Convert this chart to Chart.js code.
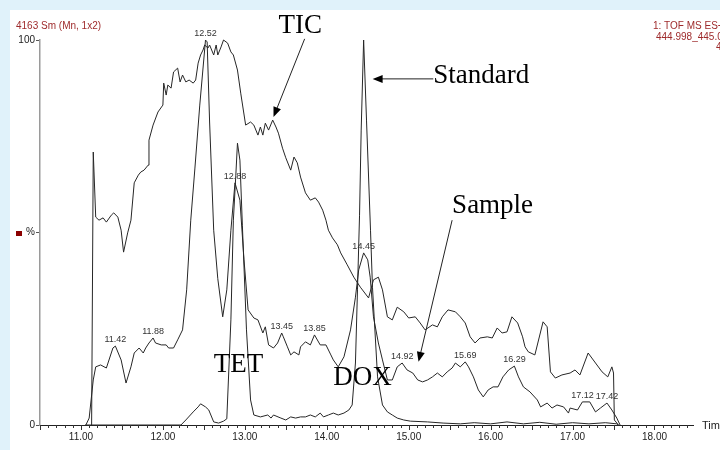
<!DOCTYPE html>
<html>
<head>
<meta charset="utf-8">
<script src="https://cdn.jsdelivr.net/npm/chart.js@4.4.1/dist/chart.umd.min.js"></script>
<style>
  body { margin: 0; background: #e0f2fa; width: 720px; height: 450px; overflow: hidden; }
  #panel { position: absolute; left: 10px; top: 10px; width: 710px; height: 440px; background: #fff; }
</style>
</head>
<body>
<div id="panel"><canvas id="chromatogram" width="710" height="440"></canvas></div>
<script>
// retention time (min) and relative intensity (%) for each trace
const ticTimes = [11.13, 11.15, 11.18, 11.22, 11.27, 11.31, 11.37, 11.40, 11.45, 11.49, 11.52, 11.57, 11.61, 11.65, 11.70, 11.73, 11.77, 11.82, 11.83, 11.88, 11.94, 12.00, 12.01, 12.04, 12.06, 12.10, 12.13, 12.18, 12.21, 12.24, 12.28, 12.32, 12.37, 12.40, 12.43, 12.46, 12.49, 12.51, 12.55, 12.57, 12.62, 12.65, 12.67, 12.71, 12.74, 12.79, 12.83, 12.86, 12.91, 12.95, 13.01, 13.07, 13.11, 13.16, 13.19, 13.22, 13.25, 13.29, 13.34, 13.38, 13.41, 13.46, 13.50, 13.56, 13.60, 13.64, 13.68, 13.74, 13.80, 13.86, 13.90, 13.95, 13.99, 14.02, 14.07, 14.13, 14.17, 14.25, 14.33, 14.41, 14.51, 14.57, 14.63, 14.68, 14.74, 14.80, 14.86, 14.94, 15.00, 15.08, 15.14, 15.20, 15.29, 15.35, 15.41, 15.48, 15.57, 15.63, 15.69, 15.75, 15.81, 15.87, 15.96, 16.02, 16.08, 16.14, 16.20, 16.26, 16.33, 16.39, 16.42, 16.46, 16.54, 16.64, 16.69, 16.73, 16.79, 16.87, 16.97, 17.03, 17.09, 17.19, 17.28, 17.36, 17.43, 17.48, 17.50, 17.51, 17.56];
const ticValues = [0, 70.9, 54.0, 53.2, 53.8, 52.7, 54.5, 55.1, 54.0, 50.6, 44.9, 49.9, 53.2, 62.9, 64.9, 65.7, 66.2, 67.5, 74.0, 77.9, 81.3, 83.1, 88.8, 85.7, 88.3, 87.5, 91.7, 92.7, 89.1, 90.9, 89.1, 89.6, 88.8, 89.6, 94.0, 96.1, 97.4, 98.7, 97.9, 98.7, 96.1, 98.7, 96.1, 98.2, 100, 99.2, 96.9, 96.1, 92.2, 86.2, 77.9, 78.7, 77.9, 75.3, 77.4, 75.3, 78.4, 76.6, 79.2, 77.4, 75.8, 71.9, 69.4, 66.2, 69.6, 68.1, 64.4, 60.3, 58.4, 59.0, 57.9, 55.8, 53.2, 50.6, 48.6, 46.8, 44.7, 41.6, 38.4, 35.8, 33.0, 37.7, 38.4, 35.1, 28.1, 27.3, 30.6, 29.4, 27.8, 28.1, 26.5, 24.7, 26.0, 25.5, 28.1, 29.9, 29.4, 28.1, 26.5, 22.9, 21.3, 22.6, 22.9, 22.6, 25.2, 23.9, 24.2, 28.1, 26.5, 22.9, 20.3, 19.0, 18.2, 26.8, 25.5, 13.8, 12.2, 13.0, 13.5, 14.3, 13.0, 18.7, 16.1, 13.8, 12.5, 15.1, 13.5, 1.3, 0];

const sampleTimes = [11.06, 11.10, 11.15, 11.18, 11.24, 11.31, 11.39, 11.42, 11.49, 11.55, 11.61, 11.65, 11.71, 11.76, 11.79, 11.83, 11.88, 11.91, 11.98, 12.04, 12.07, 12.13, 12.18, 12.24, 12.29, 12.34, 12.39, 12.45, 12.52, 12.54, 12.57, 12.62, 12.67, 12.73, 12.78, 12.83, 12.88, 12.94, 12.99, 13.04, 13.11, 13.16, 13.22, 13.25, 13.29, 13.35, 13.40, 13.45, 13.47, 13.52, 13.56, 13.60, 13.66, 13.68, 13.74, 13.80, 13.85, 13.92, 13.99, 14.05, 14.08, 14.14, 14.21, 14.29, 14.35, 14.39, 14.45, 14.50, 14.53, 14.57, 14.63, 14.68, 14.74, 14.80, 14.86, 14.92, 14.98, 15.05, 15.11, 15.17, 15.23, 15.29, 15.35, 15.41, 15.47, 15.53, 15.57, 15.63, 15.69, 15.73, 15.79, 15.85, 15.91, 15.97, 16.03, 16.09, 16.15, 16.22, 16.29, 16.34, 16.40, 16.48, 16.57, 16.61, 16.69, 16.75, 16.81, 16.89, 16.95, 16.97, 17.06, 17.12, 17.21, 17.28, 17.34, 17.42, 17.48, 17.54, 17.58];
const sampleValues = [0, 1.8, 11.7, 15.1, 15.6, 14.8, 20.0, 20.5, 16.9, 10.9, 15.1, 18.7, 20.0, 18.7, 20.0, 21.3, 22.6, 21.3, 20.8, 20.8, 20.0, 20.0, 22.1, 24.7, 35.1, 53.2, 66.5, 83.1, 100, 99.5, 78.7, 50.6, 38.0, 28.1, 35.1, 50.6, 62.9, 58.4, 42.9, 29.9, 27.8, 27.3, 23.9, 25.5, 20.8, 20.0, 21.3, 23.9, 22.9, 20.3, 18.2, 19.0, 18.2, 20.3, 21.6, 20.8, 23.4, 20.8, 20.8, 18.2, 16.9, 15.1, 17.7, 24.7, 33.2, 40.3, 44.7, 42.9, 38.4, 28.1, 21.3, 16.9, 11.7, 11.7, 15.1, 16.1, 14.3, 13.5, 11.7, 11.2, 11.7, 12.5, 13.5, 12.5, 13.8, 14.8, 16.1, 15.1, 16.4, 15.1, 12.5, 9.1, 7.3, 9.1, 9.9, 9.9, 12.5, 14.3, 15.3, 12.5, 9.9, 8.6, 6.5, 4.7, 5.7, 4.4, 5.2, 4.7, 3.1, 4.4, 3.9, 6.0, 6.0, 3.4, 4.4, 5.7, 3.9, 1.8, 0];

const standardTimes = [11.05, 12.22, 12.28, 12.37, 12.43, 12.46, 12.52, 12.56, 12.62, 12.68, 12.74, 12.78, 12.83, 12.86, 12.89, 12.91, 12.94, 12.97, 13.02, 13.07, 13.11, 13.19, 13.28, 13.32, 13.35, 13.44, 13.50, 13.56, 13.62, 13.68, 13.74, 13.80, 13.86, 13.92, 13.96, 14.02, 14.08, 14.14, 14.21, 14.27, 14.31, 14.35, 14.375, 14.40, 14.42, 14.45, 14.485, 14.534, 14.558, 14.62, 14.68, 14.74, 14.80, 14.86, 14.94, 15.02, 15.23, 15.42, 15.63, 15.80, 16.00, 16.20, 16.40, 16.60, 16.80, 17.00, 17.20, 17.40, 17.54, 17.56];
const standardValues = [0, 0, 1.3, 3.4, 4.7, 5.5, 4.7, 3.9, 0.8, 0.5, 1.0, 1.6, 27.3, 53.2, 64.9, 73.2, 68.8, 51.9, 24.7, 6.5, 2.6, 2.1, 2.6, 1.8, 2.6, 1.8, 1.3, 2.1, 1.8, 2.1, 2.1, 2.6, 2.1, 3.1, 2.1, 2.6, 3.1, 2.6, 3.1, 3.9, 5.2, 16.1, 35.1, 54.5, 76.6, 100, 79.2, 50.6, 35.8, 12.5, 5.2, 3.4, 2.6, 1.8, 1.3, 1.0, 0.8, 0.5, 0.3, 0.6, 0.3, 0.8, 0.3, 0.7, 0.2, 0.6, 0.3, 0.6, 0.3, 0];

// labelled peak apexes
const peakTimes = [11.42, 11.88, 12.52, 12.88, 13.45, 13.85, 14.45, 14.92, 15.69, 16.29, 17.12, 17.42];
const peakHeights = [20.5, 22.6, 100, 62.9, 23.9, 23.4, 44.7, 16.1, 16.4, 15.3, 6.0, 5.7];

// axis
const xMajorTicks = [11, 12, 13, 14, 15, 16, 17, 18];
const yTickValues = [0, 50, 100];
const yTickLabels = ['0', '%', '100'];

// hand-drawn callouts: text, text anchor [time, %], arrow from/to [time, %]
const calloutTexts = ['TIC', 'Standard', 'Sample', 'TET', 'DOX'];
const calloutAnchors = [[13.41, 101.8], [15.30, 88.8], [15.53, 55.1], [12.62, 13.8], [14.08, 10.4]];
const arrowFrom = [[13.73, 100.3], [15.30, 89.9], [15.53, 53.2]];
const arrowTo = [[13.35, 80.0], [14.56, 89.9], [15.12, 16.4]];

const sansFont = 'Arial, "Liberation Sans", sans-serif';
const serifFont = '"Times New Roman", "Liberation Serif", serif';
const lineColor = '#262626';

function toPoints(times, values) {
  return times.map((t, i) => ({ x: t, y: values[i] }));
}

function drawArrow(ctx, x1, y1, x2, y2) {
  const ang = Math.atan2(y2 - y1, x2 - x1);
  const len = 10, half = 4;
  ctx.beginPath();
  ctx.moveTo(x1, y1);
  ctx.lineTo(x2 - Math.cos(ang) * len * 0.8, y2 - Math.sin(ang) * len * 0.8);
  ctx.stroke();
  ctx.beginPath();
  ctx.moveTo(x2, y2);
  ctx.lineTo(x2 - Math.cos(ang) * len + Math.sin(ang) * half, y2 - Math.sin(ang) * len - Math.cos(ang) * half);
  ctx.lineTo(x2 - Math.cos(ang) * len - Math.sin(ang) * half, y2 - Math.sin(ang) * len + Math.cos(ang) * half);
  ctx.closePath();
  ctx.fill();
}

const decorations = {
  id: 'decorations',
  afterDraw(chart) {
    const ctx = chart.ctx;
    const xs = chart.scales.x, ys = chart.scales.y;
    const area = chart.chartArea;
    ctx.save();

    // minor / major tick marks under the time axis
    ctx.strokeStyle = '#333';
    ctx.lineWidth = 1;
    xs.ticks.forEach(tk => {
      const px = Math.round(xs.getPixelForValue(tk.value)) + 0.5;
      const half = Math.abs(tk.value * 2 - Math.round(tk.value * 2)) < 1e-6;
      ctx.beginPath();
      ctx.moveTo(px, area.bottom);
      ctx.lineTo(px, area.bottom + (half ? 5 : 3));
      ctx.stroke();
    });

    // header texts
    ctx.fillStyle = '#9e2a2b';
    ctx.font = '10px ' + sansFont;
    ctx.textBaseline = 'middle';
    ctx.textAlign = 'left';
    ctx.fillText('4163 Sm (Mn, 1x2)', 6, 16);
    ctx.fillText('1: TOF MS ES+', 643, 16);
    ctx.fillText('444.998_445.023', 646, 27);
    ctx.fillText('4.16e4', 706, 37);

    // marker next to the % label
    ctx.fillStyle = '#8b0000';
    ctx.fillRect(6, Math.round(ys.getPixelForValue(50)) - 2, 6, 5);

    // axis title
    ctx.fillStyle = '#222';
    ctx.font = '11px ' + sansFont;
    ctx.fillText('Time', area.right + 9, area.bottom + 1);

    // peak apex labels
    ctx.fillStyle = '#333';
    ctx.font = '9px ' + sansFont;
    ctx.textAlign = 'center';
    ctx.textBaseline = 'bottom';
    peakTimes.forEach((t, i) => {
      ctx.fillText(t.toFixed(2), xs.getPixelForValue(t), ys.getPixelForValue(peakHeights[i]) - 2);
    });

    // callouts
    ctx.fillStyle = '#000';
    ctx.font = '27px ' + serifFont;
    ctx.textAlign = 'left';
    ctx.textBaseline = 'alphabetic';
    calloutTexts.forEach((txt, i) => {
      ctx.fillText(txt, xs.getPixelForValue(calloutAnchors[i][0]), ys.getPixelForValue(calloutAnchors[i][1]));
    });
    ctx.strokeStyle = '#222';
    ctx.lineWidth = 1;
    arrowFrom.forEach((p, i) => {
      drawArrow(ctx,
        xs.getPixelForValue(p[0]), ys.getPixelForValue(p[1]),
        xs.getPixelForValue(arrowTo[i][0]), ys.getPixelForValue(arrowTo[i][1]));
    });
    ctx.restore();
  }
};

const traceStyle = { borderColor: lineColor, borderWidth: 1, pointRadius: 0, tension: 0, fill: false, clip: 4 };

new Chart(document.getElementById('chromatogram'), {
  type: 'line',
  data: {
    datasets: [
      Object.assign({ label: 'TIC', data: toPoints(ticTimes, ticValues) }, traceStyle),
      Object.assign({ label: 'Sample', data: toPoints(sampleTimes, sampleValues) }, traceStyle),
      Object.assign({ label: 'Standard', data: toPoints(standardTimes, standardValues) }, traceStyle)
    ]
  },
  options: {
    responsive: false,
    animation: false,
    events: [],
    layout: { padding: { left: 0, top: 30, right: 27, bottom: 0 } },
    plugins: { legend: { display: false }, tooltip: { enabled: false } },
    scales: {
      x: {
        type: 'linear',
        min: 10.5,
        max: 18.47,
        afterFit: s => { s.height = 25; },
        border: { color: '#222', width: 1 },
        grid: { display: true, drawOnChartArea: false, drawTicks: false },
        ticks: {
          stepSize: 0.1,
          includeBounds: false,
          autoSkip: false,
          maxRotation: 0,
          padding: 6,
          color: '#222',
          font: { family: sansFont, size: 10 },
          callback: v => xMajorTicks.some(m => Math.abs(m - v) < 1e-6) ? v.toFixed(2) : ''
        }
      },
      y: {
        min: 0,
        max: 100,
        afterFit: s => { s.width = 30; },
        afterBuildTicks: s => { s.ticks = yTickValues.map(v => ({ value: v })); },
        border: { color: '#9a9a9a', width: 1.5 },
        grid: { drawOnChartArea: false, drawTicks: true, tickLength: 4, tickColor: '#555' },
        ticks: {
          padding: 1,
          color: '#222',
          font: { family: sansFont, size: 10 },
          callback: v => yTickLabels[yTickValues.indexOf(v)]
        }
      }
    }
  },
  plugins: [decorations]
});
</script>
</body>
</html>
